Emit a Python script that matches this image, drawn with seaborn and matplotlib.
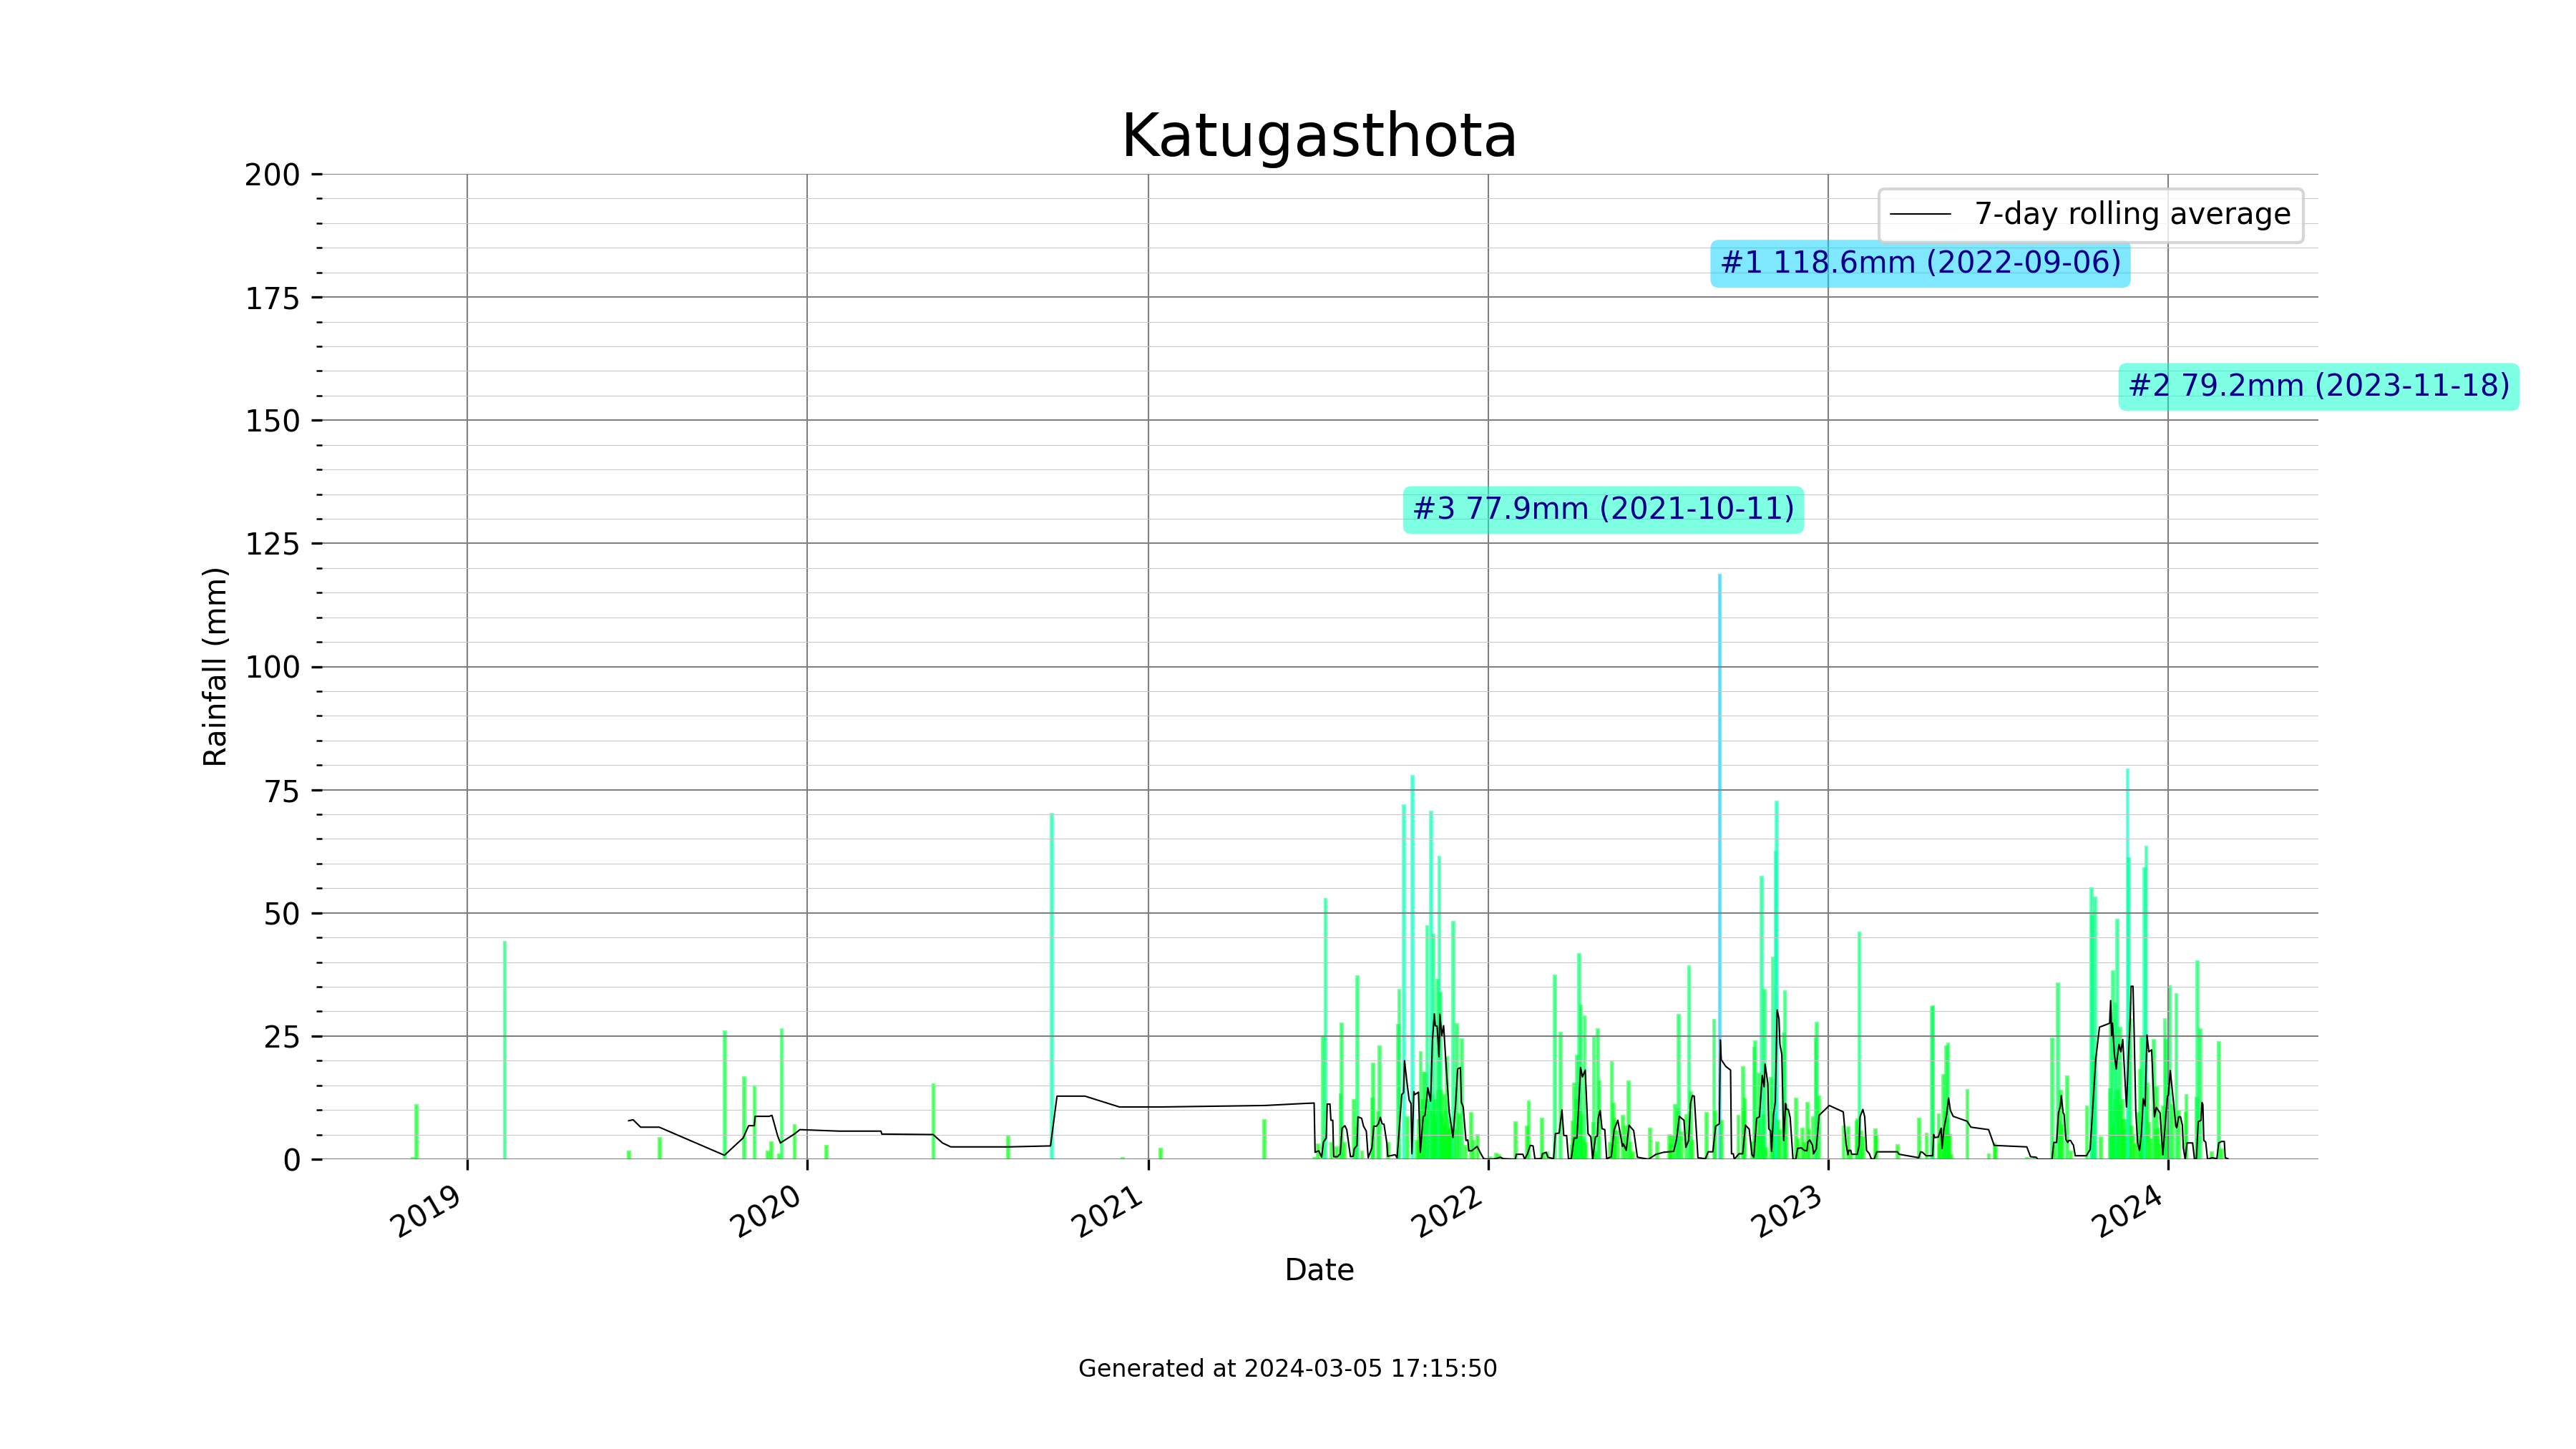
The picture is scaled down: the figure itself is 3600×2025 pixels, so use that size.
import pandas as pd
import matplotlib.pyplot as plt
import matplotlib.dates as mdates
from matplotlib.colors import LinearSegmentedColormap, Normalize
from matplotlib.ticker import MultipleLocator
import seaborn as sns

# daily rainfall, one pair of lists per stretch of the record
early_dates = ['2018-11-03', '2018-11-07', '2019-02-10', '2019-06-23', '2019-07-26', '2019-10-04', '2019-10-25',
               '2019-11-05', '2019-11-19', '2019-11-23', '2019-12-01', '2019-12-04', '2019-12-18', '2020-01-21',
               '2020-05-15', '2020-08-03', '2020-09-19', '2020-12-04', '2021-01-14', '2021-05-05']
early_mm = [0.3, 11.0, 44.1, 1.6, 4.4, 26.0, 16.7,
            14.8, 1.6, 3.5, 1.0, 26.4, 7.0, 2.7,
            15.3, 4.7, 70.1, 0.3, 2.2, 8.0]

dates_2021 = ['2021-06-28', '2021-07-02', '2021-07-07', '2021-07-10', '2021-07-16', '2021-07-22', '2021-07-26', '2021-07-27',
              '2021-07-30', '2021-08-09', '2021-08-12', '2021-08-13', '2021-08-18', '2021-08-29', '2021-08-30', '2021-09-04',
              '2021-09-06', '2021-09-15', '2021-09-26', '2021-09-27', '2021-10-02', '2021-10-06', '2021-10-11', '2021-10-16',
              '2021-10-18', '2021-10-19', '2021-10-20', '2021-10-22', '2021-10-23', '2021-10-25', '2021-10-26', '2021-10-27',
              '2021-10-29', '2021-10-31', '2021-11-01', '2021-11-02', '2021-11-03', '2021-11-04', '2021-11-05', '2021-11-06',
              '2021-11-07', '2021-11-08', '2021-11-09', '2021-11-10', '2021-11-11', '2021-11-12', '2021-11-13', '2021-11-14',
              '2021-11-15', '2021-11-16', '2021-11-17', '2021-11-18', '2021-11-19', '2021-11-20', '2021-11-21', '2021-11-22',
              '2021-11-24', '2021-11-26', '2021-11-28', '2021-11-30', '2021-12-03', '2021-12-07', '2021-12-13', '2021-12-16',
              '2021-12-20']
mm_2021 = [0.3, 3.0, 25.0, 52.9, 3.4, 2.4, 13.2, 27.6,
           3.4, 12.0, 6.5, 37.2, 1.6, 12.3, 19.4, 9.6,
           22.9, 3.3, 27.3, 34.4, 71.9, 8.6, 77.9, 3.8,
           8.0, 3.3, 21.8, 12.0, 17.6, 17.6, 9.0, 47.4,
           12.0, 70.6, 10.0, 13.0, 45.6, 9.0, 12.0, 8.0,
           36.5, 14.0, 61.5, 33.9, 14.0, 9.0, 7.0, 13.0,
           6.7, 10.0, 20.7, 6.0, 8.0, 6.2, 5.0, 6.0,
           48.2, 6.0, 27.4, 9.1, 24.4, 2.8, 9.5, 3.8,
           5.0]

dates_2022a = ['2022-01-02', '2022-01-09', '2022-01-12', '2022-01-30', '2022-02-11', '2022-02-13', '2022-02-27', '2022-03-01',
               '2022-03-05', '2022-03-13', '2022-03-19', '2022-03-31', '2022-04-01', '2022-04-02', '2022-04-03', '2022-04-04',
               '2022-04-05', '2022-04-06', '2022-04-07', '2022-04-08', '2022-04-09', '2022-04-10', '2022-04-11', '2022-04-13',
               '2022-04-14', '2022-04-15', '2022-04-23', '2022-04-24', '2022-04-26', '2022-04-28', '2022-04-30', '2022-05-11',
               '2022-05-13', '2022-05-15', '2022-05-16', '2022-05-17', '2022-05-20', '2022-05-25', '2022-05-28', '2022-05-31',
               '2022-06-02', '2022-06-05', '2022-06-23', '2022-07-01']
mm_2022a = [0.5, 1.1, 0.8, 7.6, 6.7, 11.8, 8.3, 1.1,
            1.4, 37.3, 25.7, 2.8, 7.7, 4.0, 15.4, 6.0,
            12.0, 21.0, 7.0, 41.7, 10.0, 31.2, 9.0, 4.0,
            29.0, 3.3, 7.4, 24.8, 1.4, 26.5, 15.9, 3.3,
            19.8, 11.3, 8.2, 5.7, 5.7, 8.9, 6.7, 15.9,
            3.3, 1.5, 6.3, 3.5]

dates_2022b = ['2022-07-14', '2022-07-15', '2022-07-17', '2022-07-20', '2022-07-23', '2022-07-24', '2022-07-27', '2022-08-01',
               '2022-08-04', '2022-08-06', '2022-08-08', '2022-08-23', '2022-08-31', '2022-09-01', '2022-09-06', '2022-09-08',
               '2022-09-26', '2022-10-01', '2022-10-02', '2022-10-03', '2022-10-11', '2022-10-13', '2022-10-14', '2022-10-17',
               '2022-10-18', '2022-10-19', '2022-10-21', '2022-10-22', '2022-10-23', '2022-10-24', '2022-10-26', '2022-10-31',
               '2022-11-02', '2022-11-03', '2022-11-04', '2022-11-05', '2022-11-06', '2022-11-08', '2022-11-10', '2022-11-14',
               '2022-11-15', '2022-11-16', '2022-11-27', '2022-11-29', '2022-12-04', '2022-12-06', '2022-12-09', '2022-12-11',
               '2022-12-15', '2022-12-18', '2022-12-19', '2022-12-22']
mm_2022b = [5.0, 3.0, 4.8, 11.0, 10.2, 29.3, 5.5, 9.0,
            39.2, 13.7, 3.8, 9.4, 28.3, 9.7, 118.6, 7.9,
            8.9, 18.7, 10.2, 12.3, 3.5, 22.6, 23.9, 5.0,
            17.4, 8.0, 57.3, 5.0, 9.0, 34.4, 2.3, 16.5,
            41.0, 9.0, 8.0, 62.4, 72.6, 7.9, 6.0, 25.5,
            34.2, 11.0, 12.3, 4.0, 6.2, 3.3, 11.5, 6.0,
            8.5, 24.5, 27.7, 12.8]

dates_2023a = ['2023-01-17', '2023-01-22', '2023-01-25', '2023-01-31', '2023-02-01', '2023-02-03', '2023-02-05', '2023-02-07',
               '2023-02-20', '2023-02-21', '2023-03-16', '2023-04-08', '2023-04-16', '2023-04-22', '2023-04-23', '2023-04-29',
               '2023-04-30', '2023-05-02', '2023-05-04', '2023-05-05', '2023-05-06', '2023-05-07', '2023-05-08', '2023-05-09',
               '2023-05-10', '2023-05-11', '2023-05-13', '2023-05-30', '2023-06-22', '2023-06-28', '2023-06-29', '2023-08-02']
mm_2023a = [6.7, 6.5, 1.0, 7.7, 8.2, 46.1, 5.7, 4.5,
            6.1, 4.8, 2.9, 8.3, 5.2, 31.0, 31.1, 9.2,
            3.0, 6.0, 17.1, 5.0, 10.0, 23.0, 8.0, 23.6,
            5.0, 5.0, 0.8, 14.1, 1.0, 3.2, 2.5, 0.3]

dates_2023b = ['2023-08-10', '2023-08-29', '2023-08-31', '2023-09-04', '2023-09-06', '2023-09-07', '2023-09-09', '2023-09-14',
               '2023-09-18', '2023-10-05', '2023-10-10', '2023-10-11', '2023-10-13', '2023-10-14', '2023-10-20', '2023-10-30',
               '2023-10-31', '2023-11-01', '2023-11-02', '2023-11-03', '2023-11-04', '2023-11-05', '2023-11-06', '2023-11-07',
               '2023-11-08', '2023-11-09', '2023-11-10', '2023-11-12', '2023-11-13', '2023-11-14', '2023-11-16', '2023-11-18',
               '2023-11-19', '2023-11-21', '2023-11-22', '2023-11-24', '2023-11-26', '2023-11-29', '2023-12-01', '2023-12-02',
               '2023-12-03', '2023-12-04', '2023-12-06', '2023-12-08', '2023-12-09', '2023-12-11', '2023-12-13', '2023-12-16',
               '2023-12-18', '2023-12-19', '2023-12-21', '2023-12-23', '2023-12-26', '2023-12-28', '2023-12-29', '2023-12-31']
mm_2023b = [0.3, 24.5, 3.0, 35.7, 7.7, 14.0, 7.0, 16.8,
            1.6, 10.7, 55.0, 49.4, 20.8, 53.2, 4.5, 14.2,
            30.0, 10.0, 38.2, 6.7, 12.0, 31.7, 14.0, 48.7,
            14.0, 11.0, 26.7, 12.0, 8.0, 6.0, 8.0, 79.2,
            61.2, 28.5, 6.7, 5.0, 3.0, 9.4, 18.1, 4.0,
            24.9, 5.0, 59.1, 63.4, 15.4, 7.4, 4.0, 24.3,
            6.0, 14.7, 6.2, 3.0, 10.8, 28.5, 24.2, 6.0]

dates_2024 = ['2024-01-02', '2024-01-05', '2024-01-09', '2024-01-12', '2024-01-19', '2024-01-20', '2024-01-31', '2024-02-01',
              '2024-02-04', '2024-02-16', '2024-02-24', '2024-02-27']
mm_2024 = [35.1, 11.0, 33.6, 9.9, 9.4, 13.0, 12.5, 40.2,
           26.4, 1.4, 23.8, 2.0]

# 7-day rolling average, one pair of lists per stretch as well
avg_dates_early = ['2019-06-23', '2019-06-28', '2019-07-06', '2019-07-26', '2019-10-04', '2019-10-24', '2019-10-30', '2019-11-05',
                   '2019-11-06', '2019-11-21', '2019-11-24', '2019-11-30', '2019-12-03', '2019-12-18', '2019-12-24', '2020-02-04',
                   '2020-03-20', '2020-03-21', '2020-05-15', '2020-05-25', '2020-06-03', '2020-08-04', '2020-09-18', '2020-09-25',
                   '2020-10-25', '2020-12-01', '2021-01-14', '2021-05-06', '2021-06-16']
avg_mm_early = [7.8, 8.0, 6.5, 6.5, 0.8, 4.3, 6.8, 6.8,
                8.7, 8.7, 8.9, 4.8, 3.3, 5.1, 6.0, 5.7,
                5.7, 5.1, 5.0, 3.3, 2.5, 2.5, 2.7, 12.8,
                12.8, 10.6, 10.6, 10.9, 11.3]

avg_dates_2021 = ['2021-06-28', '2021-06-29', '2021-07-03', '2021-07-06', '2021-07-08', '2021-07-11', '2021-07-12', '2021-07-15',
                  '2021-07-16', '2021-07-18', '2021-07-19', '2021-07-23', '2021-07-26', '2021-07-28', '2021-07-31', '2021-08-02',
                  '2021-08-06', '2021-08-09', '2021-08-10', '2021-08-13', '2021-08-14', '2021-08-18', '2021-08-20', '2021-08-23',
                  '2021-08-25', '2021-08-29', '2021-08-31', '2021-09-03', '2021-09-05', '2021-09-07', '2021-09-09', '2021-09-11',
                  '2021-09-14', '2021-09-15', '2021-09-23', '2021-09-25', '2021-09-27', '2021-09-29', '2021-09-30', '2021-10-02',
                  '2021-10-03', '2021-10-06', '2021-10-08', '2021-10-10', '2021-10-11', '2021-10-13', '2021-10-14', '2021-10-18',
                  '2021-10-20', '2021-10-23', '2021-10-25', '2021-10-28', '2021-10-31', '2021-11-02', '2021-11-04', '2021-11-05',
                  '2021-11-07', '2021-11-09', '2021-11-10', '2021-11-12', '2021-11-14', '2021-11-17', '2021-11-20', '2021-11-24',
                  '2021-11-27', '2021-11-29', '2021-12-02', '2021-12-03', '2021-12-05', '2021-12-08', '2021-12-10', '2021-12-11',
                  '2021-12-14', '2021-12-20', '2021-12-24', '2021-12-27']
avg_mm_2021 = [11.4, 1.4, 1.7, 0.4, 3.5, 4.3, 11.2, 11.2,
               7.9, 7.9, 0.5, 0.5, 1.1, 6.3, 6.8, 6.0,
               0.5, 0.6, 2.1, 2.8, 8.6, 8.3, 6.7, 5.7,
               0.3, 2.3, 6.7, 6.7, 7.2, 8.5, 7.2, 7.1,
               3.3, 0.6, 0.9, 0.3, 5.2, 10.6, 13.1, 13.5,
               20.0, 15.0, 12.0, 11.3, 1.1, 13.7, 13.1, 13.6,
               1.4, 8.6, 8.9, 14.5, 11.8, 24.2, 29.5, 27.1,
               27.0, 20.8, 29.4, 25.1, 27.1, 17.9, 9.6, 4.4,
               11.6, 18.3, 18.6, 11.6, 10.6, 3.8, 3.9, 1.7,
               1.7, 2.6, 1.1, 0.1]

avg_dates_2022a = ['2022-01-01', '2022-01-09', '2022-01-14', '2022-01-17', '2022-01-30', '2022-01-31', '2022-02-07', '2022-02-09',
                   '2022-02-12', '2022-02-15', '2022-02-18', '2022-02-20', '2022-02-27', '2022-02-28', '2022-03-04', '2022-03-06',
                   '2022-03-12', '2022-03-14', '2022-03-18', '2022-03-21', '2022-03-23', '2022-03-26', '2022-03-28', '2022-03-31',
                   '2022-04-03', '2022-04-06', '2022-04-07', '2022-04-10', '2022-04-12', '2022-04-15', '2022-04-18', '2022-04-21',
                   '2022-04-23', '2022-04-26', '2022-04-28', '2022-04-29', '2022-05-01', '2022-05-03', '2022-05-06', '2022-05-08',
                   '2022-05-13', '2022-05-16', '2022-05-20', '2022-05-25', '2022-05-26', '2022-05-29', '2022-06-01', '2022-06-06',
                   '2022-06-10', '2022-06-22', '2022-06-30']
avg_mm_2022a = [0.0, 0.1, 0.4, 0.1, 0.0, 1.0, 1.0, 0.0,
                1.1, 2.8, 2.7, 0.1, 0.1, 1.1, 1.4, 0.4,
                0.1, 5.2, 5.3, 10.0, 4.8, 4.8, 0.1, 0.1,
                4.3, 4.3, 7.4, 18.6, 16.7, 18.1, 5.2, 4.5,
                0.0, 4.5, 4.7, 8.4, 9.9, 6.2, 6.0, 0.1,
                0.5, 6.0, 7.9, 2.6, 3.1, 1.8, 6.9, 5.8,
                0.4, 0.0, 1.0]

avg_dates_2022b = ['2022-07-08', '2022-07-19', '2022-07-22', '2022-07-25', '2022-07-30', '2022-08-01', '2022-08-04', '2022-08-06',
                   '2022-08-08', '2022-08-10', '2022-08-14', '2022-08-22', '2022-08-25', '2022-08-30', '2022-09-02', '2022-09-06',
                   '2022-09-07', '2022-09-08', '2022-09-13', '2022-09-18', '2022-09-19', '2022-09-21', '2022-09-22', '2022-09-27',
                   '2022-10-01', '2022-10-04', '2022-10-08', '2022-10-11', '2022-10-13', '2022-10-16', '2022-10-19', '2022-10-22',
                   '2022-10-24', '2022-10-25', '2022-10-28', '2022-10-29', '2022-10-31', '2022-11-01', '2022-11-03', '2022-11-05',
                   '2022-11-07', '2022-11-09', '2022-11-10', '2022-11-12', '2022-11-14', '2022-11-16', '2022-11-17', '2022-11-19',
                   '2022-11-21', '2022-11-24', '2022-11-27', '2022-11-29', '2022-12-03', '2022-12-06', '2022-12-09', '2022-12-10',
                   '2022-12-12', '2022-12-15', '2022-12-16', '2022-12-19', '2022-12-22']
avg_mm_2022b = [1.4, 1.6, 4.0, 8.7, 7.9, 2.4, 3.8, 11.3,
                12.9, 12.8, 0.3, 0.1, 1.5, 1.5, 6.7, 7.2,
                24.2, 20.2, 18.8, 18.1, 1.1, 1.1, 0.0, 1.1,
                1.1, 6.9, 6.1, 0.9, 0.4, 8.3, 8.6, 17.0,
                14.7, 19.3, 15.4, 6.2, 5.7, 1.6, 8.9, 11.6,
                30.3, 28.5, 23.3, 21.3, 3.8, 11.3, 10.1, 10.1,
                8.4, 0.0, 0.0, 2.2, 2.3, 1.8, 1.7, 3.5,
                3.9, 2.8, 1.1, 2.1, 8.9]

avg_dates_2023a = ['2023-01-02', '2023-01-17', '2023-01-20', '2023-01-22', '2023-01-23', '2023-01-25', '2023-01-26', '2023-02-01',
                   '2023-02-03', '2023-02-04', '2023-02-07', '2023-02-09', '2023-02-11', '2023-02-14', '2023-02-16', '2023-02-19',
                   '2023-02-22', '2023-03-16', '2023-03-18', '2023-04-08', '2023-04-10', '2023-04-12', '2023-04-16', '2023-04-23',
                   '2023-04-24', '2023-04-25', '2023-04-29', '2023-05-02', '2023-05-03', '2023-05-05', '2023-05-08', '2023-05-10',
                   '2023-05-12', '2023-05-15', '2023-05-30', '2023-06-03', '2023-06-22', '2023-06-28', '2023-08-02', '2023-08-06',
                   '2023-08-12', '2023-08-14']
avg_mm_2023a = [10.9, 9.6, 3.1, 0.9, 1.8, 1.8, 1.0, 1.0,
                2.8, 8.6, 10.1, 8.6, 1.8, 1.1, 0.1, 0.0,
                1.5, 1.5, 1.0, 0.3, 1.5, 1.4, 0.7, 0.7,
                5.0, 4.4, 4.5, 6.3, 2.2, 6.2, 9.1, 12.4,
                9.9, 8.7, 7.7, 6.5, 6.0, 2.8, 2.5, 0.5,
                0.4, 0.0]

avg_dates_2023b = ['2023-08-29', '2023-08-31', '2023-09-03', '2023-09-05', '2023-09-07', '2023-09-08', '2023-09-10', '2023-09-11',
                   '2023-09-13', '2023-09-15', '2023-09-16', '2023-09-18', '2023-09-20', '2023-09-21', '2023-09-23', '2023-10-05',
                   '2023-10-09', '2023-10-15', '2023-10-19', '2023-10-30', '2023-10-31', '2023-11-01', '2023-11-02', '2023-11-04',
                   '2023-11-06', '2023-11-07', '2023-11-09', '2023-11-11', '2023-11-13', '2023-11-15', '2023-11-17', '2023-11-19',
                   '2023-11-21', '2023-11-22', '2023-11-24', '2023-11-25', '2023-11-27', '2023-11-29', '2023-12-01', '2023-12-03',
                   '2023-12-05', '2023-12-07', '2023-12-09', '2023-12-11', '2023-12-14', '2023-12-17', '2023-12-19', '2023-12-23',
                   '2023-12-26', '2023-12-29', '2023-12-31']
avg_mm_2023b = [0.0, 3.4, 3.4, 9.4, 10.8, 12.9, 9.4, 9.1,
                4.0, 3.4, 3.8, 3.8, 3.1, 2.9, 0.7, 0.7,
                2.0, 20.3, 26.8, 27.6, 32.2, 25.1, 27.6, 21.3,
                18.3, 20.5, 23.3, 21.8, 24.3, 17.4, 10.6, 20.3,
                28.5, 35.1, 35.1, 27.6, 9.6, 3.3, 1.8, 5.2,
                12.3, 10.8, 25.2, 21.8, 22.2, 8.6, 10.5, 9.4,
                0.9, 8.2, 12.8]

avg_dates_2024 = ['2024-01-01', '2024-01-03', '2024-01-07', '2024-01-09', '2024-01-10', '2024-01-12', '2024-01-14', '2024-01-16',
                  '2024-01-17', '2024-01-19', '2024-01-21', '2024-01-27', '2024-01-29', '2024-01-31', '2024-02-02', '2024-02-05',
                  '2024-02-06', '2024-02-07', '2024-02-08', '2024-02-10', '2024-02-12', '2024-02-17', '2024-02-22', '2024-02-24',
                  '2024-02-27', '2024-03-01', '2024-03-02', '2024-03-05']
avg_mm_2024 = [13.0, 18.0, 10.6, 6.7, 6.4, 8.6, 8.6, 6.9,
               2.3, 0.0, 3.3, 3.3, 0.0, 0.0, 7.6, 7.9,
               11.5, 11.1, 3.8, 3.5, 0.0, 0.3, 0.1, 3.3,
               3.6, 3.6, 0.3, 0.1]

# the three wettest days
top_dates = ['2022-09-06', '2023-11-18', '2021-10-11']
top_mm = [118.6, 79.2, 77.9]
top_labels = ['#1 118.6mm (2022-09-06)', '#2 79.2mm (2023-11-18)', '#3 77.9mm (2021-10-11)']
top_label_y = [180, 155, 130]

rain = pd.DataFrame({
    'date': pd.to_datetime(early_dates + dates_2021 + dates_2022a + dates_2022b + dates_2023a + dates_2023b + dates_2024),
    'mm': early_mm + mm_2021 + mm_2022a + mm_2022b + mm_2023a + mm_2023b + mm_2024,
})
rolling = pd.DataFrame({
    'date': pd.to_datetime(avg_dates_early + avg_dates_2021 + avg_dates_2022a + avg_dates_2022b + avg_dates_2023a
                           + avg_dates_2023b + avg_dates_2024),
    'mm': avg_mm_early + avg_mm_2021 + avg_mm_2022a + avg_mm_2022b + avg_mm_2023a + avg_mm_2023b + avg_mm_2024,
})

sns.set_style('ticks', rc={
    'axes.axisbelow': 'line', 'text.color': 'black', 'axes.labelcolor': 'black',
    'xtick.color': 'black', 'ytick.color': 'black',
})
plt.rcParams['font.family'] = ['DejaVu Sans']

# green up to 100 mm, cyan at 100, on towards blue above it
rain_cmap = LinearSegmentedColormap.from_list('rain', ['lime', 'cyan', 'blue'])
rain_norm = Normalize(0, 200)

fig, ax = plt.subplots(figsize=(12, 6.75))

bar_colors = rain_cmap(rain_norm(rain['mm']))
ax.bar(rain['date'], rain['mm'], width=2, color=bar_colors, edgecolor=bar_colors, linewidth=0.8, alpha=0.5)
sns.lineplot(data=rolling, x='date', y='mm', ax=ax, color='black', linewidth=0.5,
             estimator=None, label='7-day rolling average')

for d, v, label, y in zip(top_dates, top_mm, top_labels, top_label_y):
    ax.text(pd.Timestamp(d), y, label, color='darkblue',
            bbox=dict(boxstyle='round', facecolor=rain_cmap(rain_norm(v)), edgecolor='none', alpha=0.5))

ax.set_xlim(pd.Timestamp('2018-07-29'), pd.Timestamp('2024-06-10'))
ax.set_ylim(0, 200)
ax.xaxis.set_major_locator(mdates.YearLocator())
ax.xaxis.set_major_formatter(mdates.DateFormatter('%Y'))
ax.yaxis.set_major_locator(MultipleLocator(25))
ax.yaxis.set_minor_locator(MultipleLocator(5))
ax.grid(which='major', color='gray', linewidth=0.5)
ax.grid(which='minor', axis='y', color='#c8c8c8', linewidth=0.25)
ax.tick_params(which='major', left=True, bottom=True)
ax.tick_params(which='minor', left=True)
sns.despine(ax=ax, left=True, bottom=True)

ax.set_title('Katugasthota', fontsize=20)
ax.set_xlabel('Date')
ax.set_ylabel('Rainfall (mm)')
ax.legend(loc='upper right')
fig.autofmt_xdate()
fig.text(0.5, 0.05, 'Generated at 2024-03-05 17:15:50', ha='center', fontsize=8)

fig.savefig('out.png', dpi=300)
